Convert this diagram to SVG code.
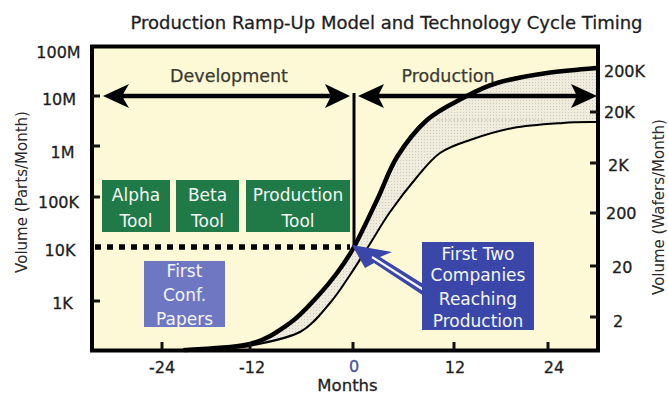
<svg xmlns="http://www.w3.org/2000/svg" width="668" height="394" viewBox="0 0 668 394">
  <defs>
    <pattern id="stipple" width="3" height="3" patternUnits="userSpaceOnUse">
      <rect width="3" height="3" fill="#efecdd"/>
      <rect x="1" y="1" width="1" height="1" fill="#d0cdbc"/>
    </pattern>
    <style>
      text { font-family: "DejaVu Sans", "Liberation Sans", Arial, sans-serif; fill: #1e1e1e; }
      .title { font-size: 18px; stroke: #1e1e1e; stroke-width: 0.3px; }
      .axnum { font-size: 16px; stroke: #1e1e1e; stroke-width: 0.3px; }
      .axtitle { font-size: 15px; fill: #2a2a2a; }
      .phase { font-size: 17.5px; fill: #3a3a30; stroke: #3a3a30; stroke-width: 0.25px; }
      .boxtxt { font-size: 17px; fill: #f2f6f2; text-anchor: middle; }
      .green { fill: #1f7a48; }
      .tick { stroke: #111; stroke-width: 3; }
      .arrowhead { fill: #000; }
    </style>
  </defs>

  <!-- background -->
  <rect width="668" height="394" fill="#ffffff"/>

  <!-- title -->
  <text class="title" x="386.5" y="29" text-anchor="middle">Production Ramp-Up Model and Technology Cycle Timing</text>

  <!-- plot area -->
  <g id="plot">
    <rect x="92" y="46.5" width="506" height="304" fill="#fdf9d6"/>
  </g>

  <!-- ramp band and curves -->
  <g id="curves">
    <path d="M250,344 C267.5,339.5 278.8,330.8 290,323 C301.2,315.2 309.2,305.3 317,297 C324.8,288.7 330.8,281.3 337,273 C343.2,264.7 347.3,259.2 354,247 C360.7,234.8 369.8,215 377,200 C384.2,185 388.7,170.3 397,157 C405.3,143.7 416,129.8 427,120 C438,110.2 451.3,104.2 463,98 C474.7,91.8 483,87.2 497,83 C511,78.8 530.3,75.5 547,73 C563.7,70.5 588.7,68.8 597,68 L597,122 C591.3,122.2 577,122 563,123 C549,124 528.5,125.2 513,128 C497.5,130.8 482.2,135.8 470,140 C457.8,144.2 448.8,146.8 440,153 C431.2,159.2 425.3,167.2 417,177 C408.7,186.8 398.2,200.3 390,212 C381.8,223.7 374.7,236.5 368,247 C361.3,257.5 356.3,265.7 350,275 C343.7,284.3 338.3,293.5 330,303 C321.7,312.5 313.3,324.8 300,332 C286.7,339.2 258.3,343.7 250,346 Z" fill="url(#stipple)"/>
    <line x1="437" y1="120" x2="545" y2="120" stroke="#bdb9a6" stroke-width="1.2" stroke-dasharray="2 2"/>
    <path id="lower-curve" d="M185,349.5 C215,349 238,348 250,346 C258.3,343.7 286.7,339.2 300,332 C313.3,324.8 321.7,312.5 330,303 C338.3,293.5 343.7,284.3 350,275 C356.3,265.7 361.3,257.5 368,247 C374.7,236.5 381.8,223.7 390,212 C398.2,200.3 408.7,186.8 417,177 C425.3,167.2 431.2,159.2 440,153 C448.8,146.8 457.8,144.2 470,140 C482.2,135.8 497.5,130.8 513,128 C528.5,125.2 549,124 563,123 C577,122 591.3,122.2 597,122" fill="none" stroke="#000" stroke-width="2"/>
    <path id="upper-curve" d="M185,350 C195.8,349 232.5,348.5 250,344 C267.5,339.5 278.8,330.8 290,323 C301.2,315.2 309.2,305.3 317,297 C324.8,288.7 330.8,281.3 337,273 C343.2,264.7 347.3,259.2 354,247 C360.7,234.8 369.8,215 377,200 C384.2,185 388.7,170.3 397,157 C405.3,143.7 416,129.8 427,120 C438,110.2 451.3,104.2 463,98 C474.7,91.8 483,87.2 497,83 C511,78.8 530.3,75.5 547,73 C563.7,70.5 588.7,68.8 597,68" fill="none" stroke="#000" stroke-width="4.5" stroke-linecap="round"/>
  </g>

  <!-- frame -->
  <g id="frame">
    <rect x="92" y="46.5" width="506" height="304" fill="none" stroke="#000" stroke-width="4"/>
    <line class="tick" x1="92" y1="96" x2="100" y2="96"/>
    <line class="tick" x1="92" y1="146" x2="100" y2="146"/>
    <line class="tick" x1="92" y1="197" x2="100" y2="197"/>
    <line class="tick" x1="92" y1="301" x2="100" y2="301"/>
    <line class="tick" x1="590" y1="112" x2="598" y2="112"/>
    <line class="tick" x1="590" y1="163" x2="598" y2="163"/>
    <line class="tick" x1="590" y1="213" x2="598" y2="213"/>
    <line class="tick" x1="590" y1="266" x2="598" y2="266"/>
    <line class="tick" x1="590" y1="317" x2="598" y2="317"/>
    <line class="tick" x1="162" y1="350" x2="162" y2="342"/>
    <line class="tick" x1="250" y1="350" x2="250" y2="342"/>
    <line class="tick" x1="353" y1="350" x2="353" y2="342"/>
    <line class="tick" x1="454" y1="350" x2="454" y2="342"/>
    <line class="tick" x1="548" y1="350" x2="548" y2="342"/>
  </g>

  <!-- axis labels -->
  <g id="left-axis">
    <text class="axnum" x="58.5" y="58" text-anchor="middle">100M</text>
    <text class="axnum" x="59" y="105" text-anchor="middle">10M</text>
    <text class="axnum" x="62.5" y="158" text-anchor="middle">1M</text>
    <text class="axnum" x="58.5" y="208" text-anchor="middle">100K</text>
    <text class="axnum" x="60" y="256" text-anchor="middle">10K</text>
    <text class="axnum" x="62.5" y="309" text-anchor="middle">1K</text>
    <text class="axtitle" transform="translate(27,192) rotate(-90)" text-anchor="middle">Volume (Parts/Month)</text>
  </g>
  <g id="right-axis">
    <text class="axnum" x="604" y="77">200K</text>
    <text class="axnum" x="604" y="118">20K</text>
    <text class="axnum" x="608" y="171">2K</text>
    <text class="axnum" x="606" y="219">200</text>
    <text class="axnum" x="612" y="273">20</text>
    <text class="axnum" x="613" y="327">2</text>
    <text class="axtitle" transform="translate(664,207) rotate(-90)" text-anchor="middle">Volume (Wafers/Month)</text>
  </g>
  <g id="x-axis">
    <text class="axnum" x="162" y="373" text-anchor="middle">-24</text>
    <text class="axnum" x="252" y="373" text-anchor="middle">-12</text>
    <text class="axnum" x="354" y="372" text-anchor="middle" style="fill:#4a50a6;stroke:#4a50a6">0</text>
    <text class="axnum" x="455" y="373" text-anchor="middle">12</text>
    <text class="axnum" x="554" y="373" text-anchor="middle">24</text>
    <text x="347.5" y="391" text-anchor="middle" style="font-size:16.5px;stroke:#1e1e1e;stroke-width:0.3px">Months</text>
  </g>

  <!-- phase arrows -->
  <g id="connectors">
    <line x1="354" y1="93" x2="354" y2="247" stroke="#000" stroke-width="3"/>
    <line x1="118" y1="96" x2="334" y2="96" stroke="#000" stroke-width="4.5"/>
    <polygon class="arrowhead" points="103,96 129,84 122,96 129,108"/>
    <polygon class="arrowhead" points="350,96 325,84 331,96 325,108"/>
    <line x1="376" y1="96" x2="582" y2="96" stroke="#000" stroke-width="4.5"/>
    <polygon class="arrowhead" points="358,96 384,84 378,96 384,108"/>
    <polygon class="arrowhead" points="597,96 571,84 577,96 571,108"/>
    <line x1="95" y1="247" x2="350" y2="247" stroke="#000" stroke-width="5.5" stroke-dasharray="6 6"/>
    <!-- blue callout arrow -->
    <polygon points="352,245 392,252 380,257 428,287 424,296 374,263 365,268" fill="#3b47a8"/>
    <line x1="426" y1="291.5" x2="372" y2="257" stroke="#f4f4fa" stroke-width="2.2"/>
  </g>

  <g id="phase-labels">
    <text class="phase" x="229" y="82" text-anchor="middle">Development</text>
    <text class="phase" x="448" y="82" text-anchor="middle">Production</text>
  </g>

  <!-- tool boxes -->
  <g id="alpha-tool">
    <rect class="green" x="102" y="180" width="68" height="52"/>
    <text class="boxtxt" x="136" y="201">Alpha</text>
    <text class="boxtxt" x="136" y="227">Tool</text>
  </g>
  <g id="beta-tool">
    <rect class="green" x="176" y="180" width="63" height="52"/>
    <text class="boxtxt" x="207.5" y="201">Beta</text>
    <text class="boxtxt" x="207.5" y="227">Tool</text>
  </g>
  <g id="production-tool">
    <rect class="green" x="246" y="180" width="104" height="52"/>
    <text class="boxtxt" x="298" y="201">Production</text>
    <text class="boxtxt" x="298" y="227">Tool</text>
  </g>

  <!-- callout boxes -->
  <g id="first-conf-papers">
    <rect x="144" y="261" width="81" height="66" fill="#6e77c2"/>
    <text class="boxtxt" x="184.5" y="277">First</text>
    <text class="boxtxt" x="184.5" y="301">Conf.</text>
    <text class="boxtxt" x="184.5" y="325">Papers</text>
  </g>
  <g id="first-two-companies">
    <rect x="422" y="242" width="112" height="88" fill="#3b47a8"/>
    <text class="boxtxt" x="478" y="260">First Two</text>
    <text class="boxtxt" x="478" y="281">Companies</text>
    <text class="boxtxt" x="478" y="305">Reaching</text>
    <text class="boxtxt" x="478" y="327">Production</text>
  </g>
</svg>
